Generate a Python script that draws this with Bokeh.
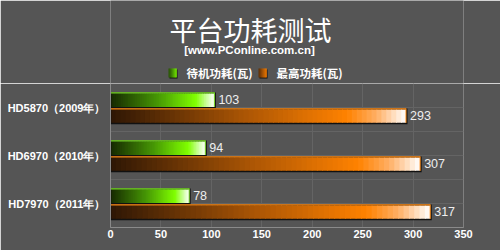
import numpy as np
from bokeh.plotting import figure
from bokeh.layouts import column
from bokeh.models import ColumnDataSource, FixedTicker, Range1d
from bokeh.core.properties import value
from bokeh.embed import file_html
from bokeh.resources import INLINE

# ---- data ----
categories = ["HD5870（2009年）", "HD6970（2010年）", "HD7970（2011年）"]
idle_power = [103, 94, 78]      # 待机功耗(瓦)
peak_power = [293, 307, 317]    # 最高功耗(瓦)
series_names = ["待机功耗(瓦)", "最高功耗(瓦)"]
x_ticks = [0, 50, 100, 150, 200, 250, 300, 350]
title_text = "平台功耗测试"
subtitle_text = "[www.PConline.com.cn]"

BG = "#555555"
FL, FR = 110, 463   # frame left / right in page pixels

def lerp(c1, c2, t):
    return tuple(int(round(a + (b - a) * t)) for a, b in zip(c1, c2))

def grad(stops, t):
    for (t0, c0), (t1, c1) in zip(stops[:-1], stops[1:]):
        if t <= t1:
            return "#%02x%02x%02x" % lerp(c0, c1, (t - t0) / (t1 - t0) if t1 > t0 else 0)
    return "#%02x%02x%02x" % stops[-1][1]

green_stops = [(0.0, (22, 40, 2)), (0.45, (70, 150, 5)), (0.82, (128, 255, 0)), (0.92, (200, 255, 150)), (1.0, (255, 255, 255))]
orange_stops = [(0.0, (45, 22, 5)), (0.45, (170, 85, 5)), (0.80, (255, 130, 0)), (0.90, (255, 175, 100)), (1.0, (255, 255, 255))]

# ---------------- header (title, subtitle, legend) ----------------
h = figure(width=500, height=83, output_backend="svg", toolbar_location=None,
           x_range=Range1d(FL, FR), y_range=Range1d(83, 0),
           x_axis_type=None, y_axis_type=None,
           min_border_left=FL, min_border_right=500 - FR, min_border_top=0, min_border_bottom=0,
           background_fill_color=BG, border_fill_color=BG, outline_line_color=None)
h.grid.visible = False
h.text(x=[250], y=[29], text=[title_text], text_font=value("Noto Sans CJK SC"),
       text_font_size="27px", text_color="#ffffff", text_align="center", text_baseline="middle")
h.text(x=[249], y=[49], text=[subtitle_text], text_font=value("Liberation Sans"),
       text_font_style="bold", text_font_size="11.5px", text_color="#ffffff",
       text_align="center", text_baseline="middle")

def legend_icon(x0, stops):
    h.quad(left=[x0 + 1], right=[x0 + 9], top=[69], bottom=[78], fill_color="#111111", line_color=None)
    ns = 8
    L = [x0 + k for k in range(ns)]
    R = [x0 + k + 1.3 for k in range(ns)]
    C = [grad(stops, 0.15 + 0.65 * (k + 0.5) / ns) for k in range(ns)]
    h.quad(left=L, right=R, top=[68] * ns, bottom=[77] * ns, fill_color=C, line_color=None)

legend_icon(168, green_stops)
legend_icon(258, orange_stops)
h.text(x=[186, 276], y=[72.5, 72.5], text=series_names, text_font=value("Noto Sans CJK SC"),
       text_font_style="bold", text_font_size="11.5px", text_color="#ffffff",
       text_align="left", text_baseline="middle")

# ---------------- main chart ----------------
p = figure(width=500, height=167, output_backend="svg", toolbar_location=None,
           x_range=Range1d(0, 350), y_range=Range1d(0, 3),
           min_border_left=FL, min_border_right=500 - FR, min_border_top=0, min_border_bottom=23,
           background_fill_color=BG, border_fill_color=BG, outline_line_color=None)

n = len(categories)
centers = [n - 0.5 - i for i in range(n)]  # first category at top

NSL = 60
px_y = 1.0 / 48.0   # data units per pixel vertically
px_x = 350 / 353.0

def draw_bars(vals, top_off, bot_off, stops, edge):
    sh = ColumnDataSource(dict(left=[0] * n, right=[v + 1.5 * px_x for v in vals],
                               top=[c + top_off for c in centers],
                               bottom=[c + bot_off - 1.5 * px_y for c in centers]))
    p.quad(left="left", right="right", top="top", bottom="bottom", source=sh,
           fill_color="#111111", line_color=None)
    L, R, T, B, C = [], [], [], [], []
    for v, c in zip(vals, centers):
        for k in range(NSL):
            t = (k + 0.5) / NSL
            L.append(v * k / NSL + (0.8 * px_x if k == 0 else 0))
            R.append(min(v, v * (k + 1) / NSL + 0.8 * px_x))
            T.append(c + top_off - 1.0 * px_y)
            B.append(c + bot_off)
            C.append(grad(stops, t))
    p.quad(left=L, right=R, top=T, bottom=B, fill_color=C, line_color=None)
    p.segment(x0=[0] * n, x1=vals, y0=[c + top_off - 0.5 * px_y for c in centers],
              y1=[c + top_off - 0.5 * px_y for c in centers], line_color=edge, line_width=1.2)
    p.segment(x0=vals, x1=vals, y0=[c + top_off for c in centers],
              y1=[c + bot_off for c in centers], line_color=edge, line_width=1)
    lab = ColumnDataSource(dict(x=[v + 4 * px_x for v in vals],
                                y=[c + (top_off + bot_off) / 2 for c in centers],
                                t=[str(v) for v in vals]))
    p.text(x="x", y="y", text="t", source=lab, text_font=value("Liberation Sans"),
           text_font_size="12.5px", text_color="#eeeeee", text_baseline="middle", text_align="left")

draw_bars(idle_power, 0.315, 0.01, green_stops, "#77dd22")
draw_bars(peak_power, -0.02, -0.32, orange_stops, "#ff8a10")

p.xaxis.ticker = FixedTicker(ticks=x_ticks)
p.xgrid.ticker = FixedTicker(ticks=x_ticks)
p.ygrid.ticker = FixedTicker(ticks=[i * 0.5 for i in range(2 * n + 1)])
p.yaxis.ticker = FixedTicker(ticks=centers)
p.yaxis.major_label_overrides = {c: cat for c, cat in zip(centers, categories)}
for g in (p.xgrid, p.ygrid):
    g.grid_line_color = "#646464"
    g.grid_line_width = 1
for ax in (p.xaxis, p.yaxis):
    ax.axis_line_color = "#8a8a8a"
    ax.major_tick_line_color = None
    ax.minor_tick_line_color = None
    ax.major_tick_out = 0
    ax.major_tick_in = 0
    ax.minor_tick_out = 0
    ax.minor_tick_in = 0
    ax.major_label_text_color = "#ffffff"
    ax.major_label_text_font = "Liberation Sans"
    ax.major_label_text_font_style = "bold"
    ax.major_label_text_font_size = "11px"
p.xaxis.major_label_standoff = 2
p.yaxis.major_label_standoff = 5

layout = column(h, p, spacing=0)
open("out.html", "w").write(file_html(layout, INLINE))
